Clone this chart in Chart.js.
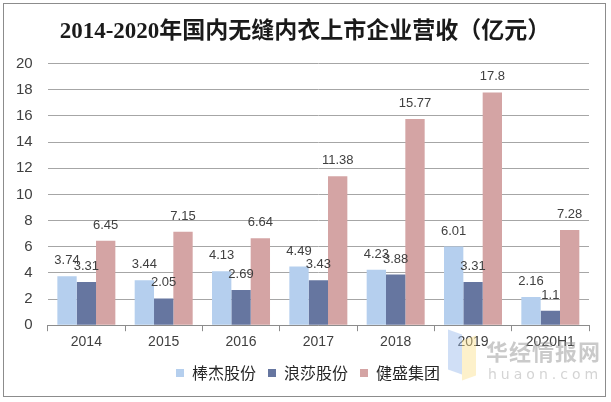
<!DOCTYPE html>
<html><head><meta charset="utf-8">
<script src="https://cdn.jsdelivr.net/npm/chart.js@4"></script>
<style>
html,body{margin:0;padding:0;background:#fff;}
#wrap{position:relative;width:611px;height:402px;}
#frame{position:absolute;left:3px;top:3px;width:603px;height:394px;border:1px solid #8c8c8c;box-sizing:border-box;pointer-events:none;}
#wm{position:absolute;left:440px;top:328px;width:168px;height:64px;pointer-events:none;}
#wm .logo1{position:absolute;left:8px;top:4px;width:14px;height:40px;background:rgba(150,185,235,0.45);transform:skewY(20deg);}
#wm .logo2{position:absolute;left:22px;top:10px;width:14px;height:40px;background:rgba(250,225,140,0.45);transform:skewY(-20deg);}
#wm .cn{position:absolute;left:46px;top:6px;font:bold 22px "Noto Sans CJK SC";color:rgba(150,150,150,0.5);letter-spacing:1px;}
#wm .en{position:absolute;left:48px;top:38px;font:14px "DejaVu Sans";color:rgba(170,170,170,0.5);letter-spacing:4px;}
</style></head>
<body>
<div id="wrap">
<canvas id="c" width="611" height="402"></canvas>
<div id="frame"></div>
<div id="wm"><div class="logo1"></div><div class="logo2"></div><span class="cn">华经情报网</span><span class="en">huaon.com</span></div>
</div>
<script>
const categories = ["2014","2015","2016","2017","2018","2019","2020H1"];
const seriesNames = ["棒杰股份","浪莎股份","健盛集团"];
const bangjie = [3.74,3.44,4.13,4.49,4.23,6.01,2.16];
const langsha = [3.31,2.05,2.69,3.43,3.88,3.31,1.1];
const jiansheng = [6.45,7.15,6.64,11.38,15.77,17.8,7.28];
const yTicks = [0,2,4,6,8,10,12,14,16,18,20];
const colors = ["#b5cfee","#6676a0","#d4a4a4"];

const labelPlugin = {
  id:'barLabels',
  afterLayout(chart){
    if (chart.titleBlock){ chart.titleBlock.left += 10; chart.titleBlock.right += 10; }
    if (chart.legend){ chart.legend.left += 13; chart.legend.right += 13; }
  },
  afterDatasetsDraw(chart){
    const ctx = chart.ctx;
    ctx.save();
    ctx.font = '13px "Liberation Sans", sans-serif';
    ctx.fillStyle = '#404040';
    ctx.textAlign = 'center';
    ctx.textBaseline = 'bottom';
    chart.data.datasets.forEach((ds,i)=>{
      const meta = chart.getDatasetMeta(i);
      meta.data.forEach((bar,j)=>{
        ctx.fillText(String(ds.data[j]), bar.x, bar.y - 9);
      });
    });
    ctx.restore();
  }
};

new Chart(document.getElementById('c'),{
  type:'bar',
  data:{
    labels:categories,
    datasets:[
      {label:seriesNames[0],data:bangjie,backgroundColor:colors[0]},
      {label:seriesNames[1],data:langsha,backgroundColor:colors[1]},
      {label:seriesNames[2],data:jiansheng,backgroundColor:colors[2]}
    ]
  },
  options:{
    responsive:false,
    animation:false,
    devicePixelRatio:1,
    layout:{padding:{left:1,right:22,top:8,bottom:11}},
    datasets:{bar:{categoryPercentage:0.75,barPercentage:1.0}},
    scales:{
      x:{
        grid:{display:true,drawOnChartArea:false,drawTicks:true,tickLength:6,color:'#8c8c8c',offset:true},
        border:{display:true,color:'#8c8c8c',width:1},
        ticks:{color:'#404040',font:{size:14,family:'"Liberation Sans", sans-serif'},padding:3},
        afterFit(scale){ scale.height -= 1; }
      },
      y:{
        min:0,max:20,
        afterBuildTicks(axis){axis.ticks = yTicks.map(v=>({value:v}));},
        grid:{color:'#a6a6a6',drawTicks:false},
        border:{display:false},
        ticks:{color:'#404040',font:{size:15,family:'"Liberation Sans", sans-serif'},padding:15}
      }
    },
    plugins:{
      title:{display:true,text:'2014-2020年国内无缝内衣上市企业营收（亿元）',
        font:{size:23,family:'"Liberation Serif","Noto Sans CJK SC"',weight:'bold'},color:'#1a1a1a',padding:{top:10,bottom:18}},
      legend:{position:'bottom',labels:{boxWidth:8,boxHeight:8,color:'#262626',font:{size:16,family:'"Noto Sans CJK SC"'},padding:12}},
      tooltip:{enabled:false}
    }
  },
  plugins:[labelPlugin]
});
</script>
</body></html>
